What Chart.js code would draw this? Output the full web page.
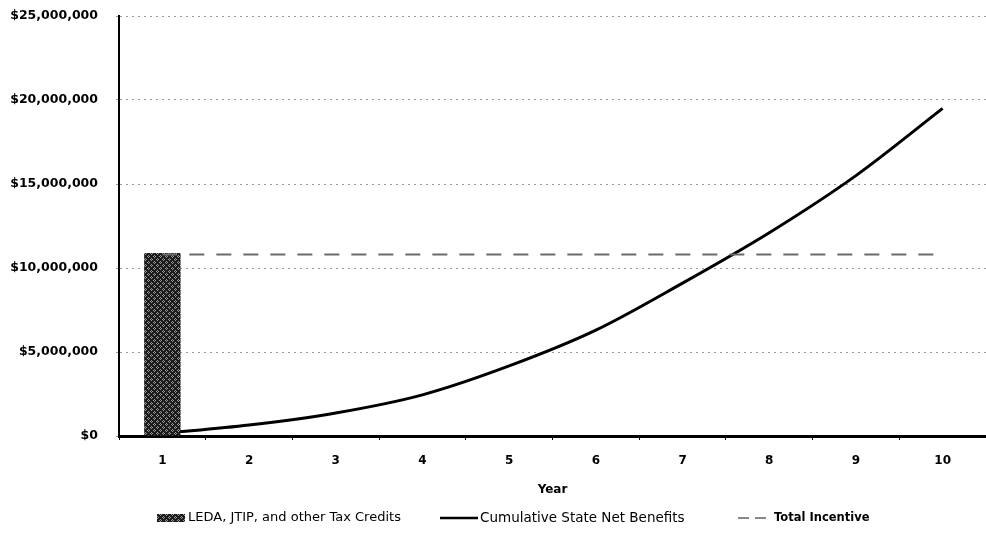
<!DOCTYPE html>
<html>
<head>
<meta charset="utf-8">
<script src="https://cdn.jsdelivr.net/npm/chart.js@4.4.1/dist/chart.umd.min.js"></script>
<style>
  html, body { margin: 0; padding: 0; background: #fff; }
  #wrap { width: 986px; height: 543px; }
</style>
</head>
<body>
<div id="wrap"><canvas id="chart" width="986" height="543"></canvas></div>
<script>
// Years on the horizontal axis
const years = ['1', '2', '3', '4', '5', '6', '7', '8', '9', '10'];

// Tax credits granted (year 1 only)
const taxCredits = [10900000, null, null, null, null, null, null, null, null, null];

// Cumulative state net benefits by year
const cumulativeBenefits = [150000, 650000, 1370000, 2450000, 4170000, 6300000, 9100000, 12100000, 15500000, 19500000];

// Total incentive, flat across the period
const totalIncentive = [10800000, 10800000, 10800000, 10800000, 10800000, 10800000, 10800000, 10800000, 10800000, 10800000];

// Series names
const seriesNames = ['LEDA, JTIP, and other Tax Credits', 'Cumulative State Net Benefits', 'Total Incentive'];

// Y axis range
const yMin = 0, yMax = 25000000, yStep = 5000000;

// Dark speckled fill for the credits bar
function makePattern() {
  const c = document.createElement('canvas');
  c.width = 6; c.height = 6;
  const g = c.getContext('2d');
  g.fillStyle = '#1c1c1c';
  g.fillRect(0, 0, 6, 6);
  g.fillStyle = '#9a9a9a';
  [[1,0],[0,1],[2,1],[1,2],[4,3],[3,4],[5,4],[4,5]].forEach(p => g.fillRect(p[0], p[1], 1, 1));
  const ctx = document.getElementById('chart').getContext('2d');
  return ctx.createPattern(c, 'repeat');
}
const barFill = makePattern();

const fmtMoney = v => '$' + Math.round(v).toString().replace(/\B(?=(\d{3})+(?!\d))/g, ',');

// Legend drawn along the bottom of the canvas
const bottomLegend = {
  id: 'bottomLegend',
  afterDraw(chart) {
    const ctx = chart.ctx;
    const y = 518;
    ctx.save();
    ctx.textBaseline = 'middle';
    ctx.textAlign = 'left';

    // bar swatch
    ctx.fillStyle = barFill;
    ctx.fillRect(157, y - 4, 28, 8);
    ctx.fillStyle = '#000';
    ctx.font = '13px "DejaVu Sans"';
    ctx.fillText(seriesNames[0], 188, y);

    // solid line swatch
    ctx.strokeStyle = '#000';
    ctx.lineWidth = 2.5;
    ctx.beginPath(); ctx.moveTo(440, y); ctx.lineTo(478, y); ctx.stroke();
    ctx.font = '13.5px "DejaVu Sans"';
    ctx.fillText(seriesNames[1], 480, y);

    // dashed line swatch
    ctx.strokeStyle = '#888';
    ctx.lineWidth = 2;
    ctx.setLineDash([11, 6]);
    ctx.beginPath(); ctx.moveTo(738, y); ctx.lineTo(770, y); ctx.stroke();
    ctx.setLineDash([]);
    ctx.font = 'bold 11.5px "DejaVu Sans"';
    ctx.fillText(seriesNames[2], 774, y);
    ctx.restore();
  }
};

new Chart(document.getElementById('chart'), {
  data: {
    labels: years,
    datasets: [
      {
        type: 'line',
        label: seriesNames[2],
        data: totalIncentive,
        borderColor: '#6a6a6a',
        borderWidth: 2,
        borderDash: [15, 12],
        pointRadius: 0,
        fill: false,
        order: 0
      },
      {
        type: 'bar',
        label: seriesNames[0],
        data: taxCredits,
        backgroundColor: barFill,
        borderWidth: 0,
        categoryPercentage: 1.0,
        barPercentage: 0.42,
        order: 1
      },
      {
        type: 'line',
        label: seriesNames[1],
        data: cumulativeBenefits,
        borderColor: '#000',
        borderWidth: 3,
        cubicInterpolationMode: 'monotone',
        pointRadius: 0,
        fill: false,
        order: 2
      }
    ]
  },
  options: {
    responsive: false,
    animation: false,
    layout: { padding: { left: 0, right: 0, top: 16, bottom: 0 } },
    plugins: {
      legend: { display: false },
      tooltip: { enabled: false }
    },
    scales: {
      x: {
        type: 'category',
        offset: true,
        grid: {
          display: true,
          offset: true,
          drawOnChartArea: false,
          drawTicks: true,
          tickLength: 4,
          color: '#000',
          lineWidth: 1
        },
        border: { display: true, color: '#000', width: 3 },
        ticks: {
          color: '#000',
          padding: 14,
          font: { family: '"DejaVu Sans"', weight: 'bold', size: 12 }
        },
        title: {
          display: true,
          text: 'Year',
          color: '#000',
          font: { family: '"DejaVu Sans"', weight: 'bold', size: 12 },
          padding: { top: 0, bottom: 46 }
        },
        afterFit(scale) { scale.height = 107; }
      },
      y: {
        min: yMin,
        max: yMax,
        ticks: {
          stepSize: yStep,
          color: '#000',
          padding: 18,
          font: { family: '"DejaVu Sans"', weight: 'bold', size: 12.5 },
          callback: v => fmtMoney(v)
        },
        grid: {
          color: '#9a9a9a',
          lineWidth: 1,
          tickLength: 3,
          drawTicks: true
        },
        // dash applies to the horizontal gridlines; the axis line stays solid
        border: { display: true, color: '#000', width: 2, dash: [2, 4] },
        afterFit(scale) {
          scale.width = 119;
          scale.paddingTop = 0;
        }
      }
    }
  },
  plugins: [bottomLegend]
});
</script>
</body>
</html>
